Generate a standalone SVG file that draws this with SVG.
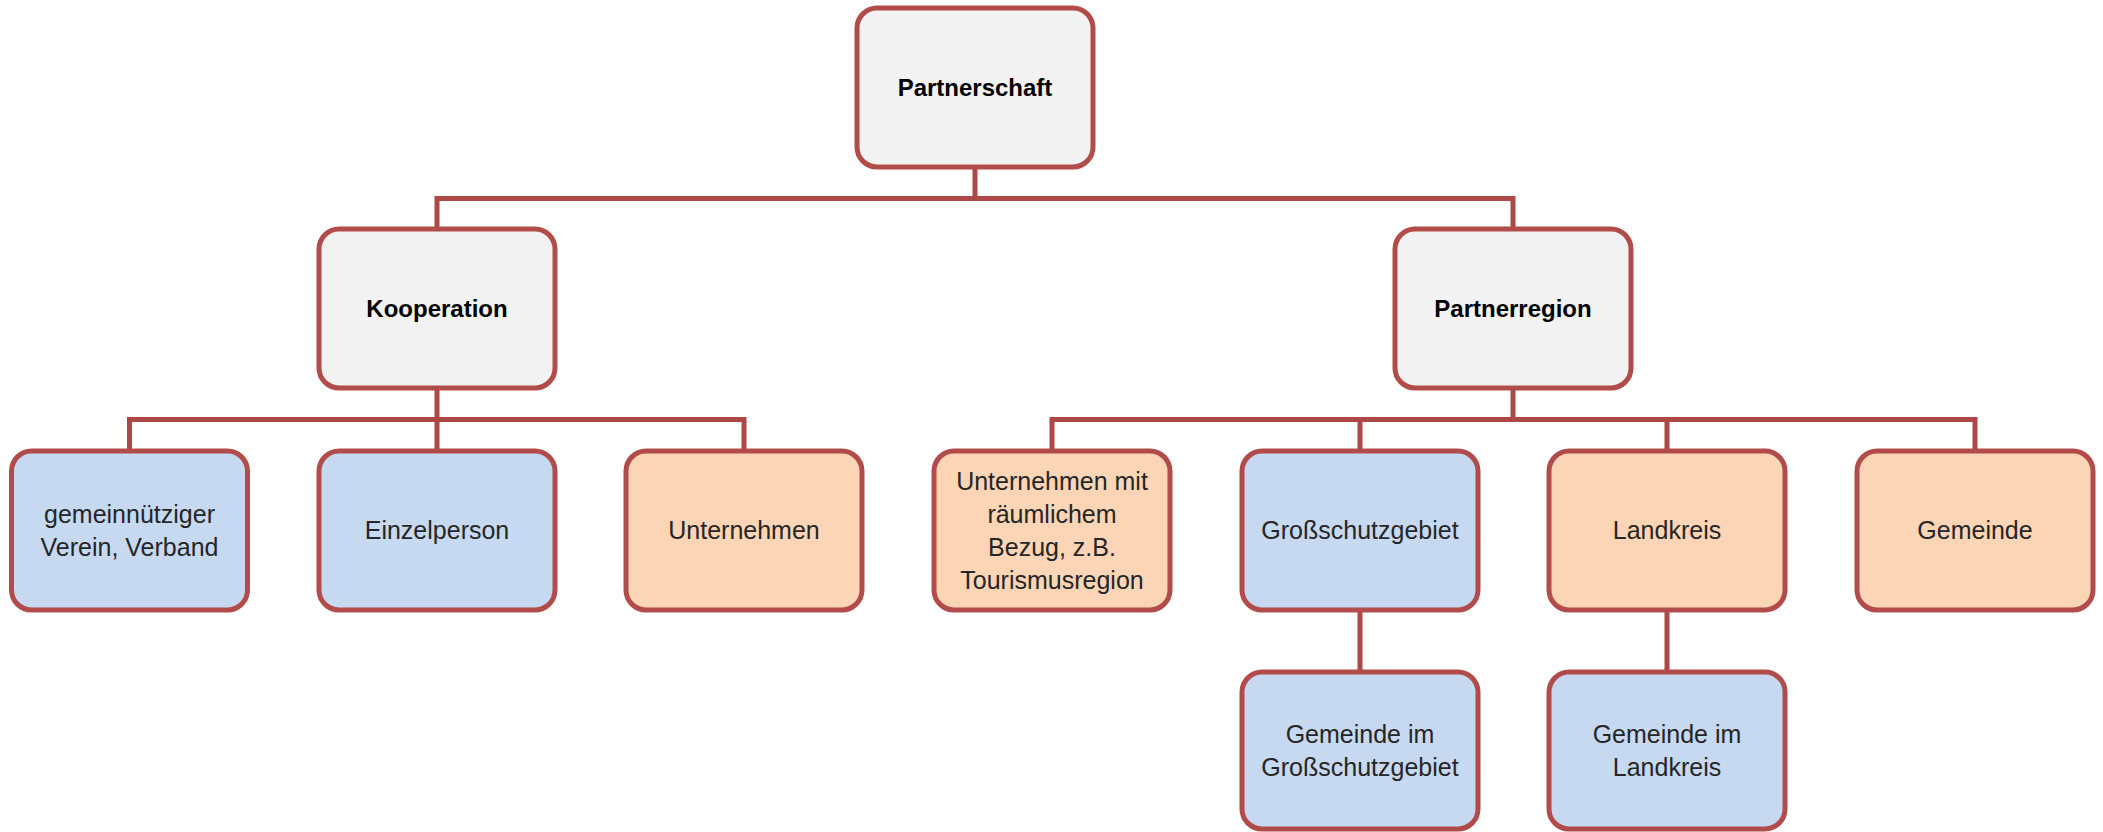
<svg xmlns="http://www.w3.org/2000/svg" width="2103" height="832" viewBox="0 0 2103 832">
<style>
.box{stroke:#B24C4A;stroke-width:5}
.g{fill:#F2F2F2}
.b{fill:#C6D9F1}
.o{fill:#FBD5B5}
.t{font-family:"Liberation Sans",Arial,sans-serif;font-size:25px;fill:#262626;text-anchor:middle}
.h{font-weight:bold;font-size:24px;fill:#000}
.c{fill:none;stroke:#AE4846;stroke-width:5}
</style>
<rect width="2103" height="832" fill="#FFFFFF"/>
<g id="connectors">
<path class="c" d="M975 167V198.5M437 229V198.5H1513V229"/>
<path class="c" d="M437 388V419.5M129.5 451V419.5H744V451M437 419.5V451"/>
<path class="c" d="M1513 388V419.5M1052 451V419.5H1975V451M1360 419.5V451M1667 419.5V451"/>
<path class="c" d="M1360 610V672M1667 610V672"/>
</g>
<g id="partnerschaft"><rect class="box g" x="857" y="8" width="236" height="159" rx="20"/><text class="t h" x="975" y="96">Partnerschaft</text></g>
<g id="kooperation"><rect class="box g" x="319" y="229" width="236" height="159" rx="20"/><text class="t h" x="437" y="317">Kooperation</text></g>
<g id="partnerregion"><rect class="box g" x="1395" y="229" width="236" height="159" rx="20"/><text class="t h" x="1513" y="317">Partnerregion</text></g>
<g id="verein"><rect class="box b" x="11.5" y="451" width="236" height="159" rx="20"/><text class="t" x="129.5" y="523">gemeinnütziger</text><text class="t" x="129.5" y="556">Verein, Verband</text></g>
<g id="einzelperson"><rect class="box b" x="319" y="451" width="236" height="159" rx="20"/><text class="t" x="437" y="539">Einzelperson</text></g>
<g id="unternehmen"><rect class="box o" x="626" y="451" width="236" height="159" rx="20"/><text class="t" x="744" y="539">Unternehmen</text></g>
<g id="unternehmen-raum"><rect class="box o" x="934" y="451" width="236" height="159" rx="20"/><text class="t" x="1052" y="490">Unternehmen mit</text><text class="t" x="1052" y="523">räumlichem</text><text class="t" x="1052" y="556">Bezug, z.B.</text><text class="t" x="1052" y="589">Tourismusregion</text></g>
<g id="grossschutzgebiet"><rect class="box b" x="1242" y="451" width="236" height="159" rx="20"/><text class="t" x="1360" y="539">Großschutzgebiet</text></g>
<g id="landkreis"><rect class="box o" x="1549" y="451" width="236" height="159" rx="20"/><text class="t" x="1667" y="539">Landkreis</text></g>
<g id="gemeinde"><rect class="box o" x="1857" y="451" width="236" height="159" rx="20"/><text class="t" x="1975" y="539">Gemeinde</text></g>
<g id="gemeinde-gsg"><rect class="box b" x="1242" y="672" width="236" height="157" rx="20"/><text class="t" x="1360" y="743">Gemeinde im</text><text class="t" x="1360" y="776">Großschutzgebiet</text></g>
<g id="gemeinde-lk"><rect class="box b" x="1549" y="672" width="236" height="157" rx="20"/><text class="t" x="1667" y="743">Gemeinde im</text><text class="t" x="1667" y="776">Landkreis</text></g>
</svg>
